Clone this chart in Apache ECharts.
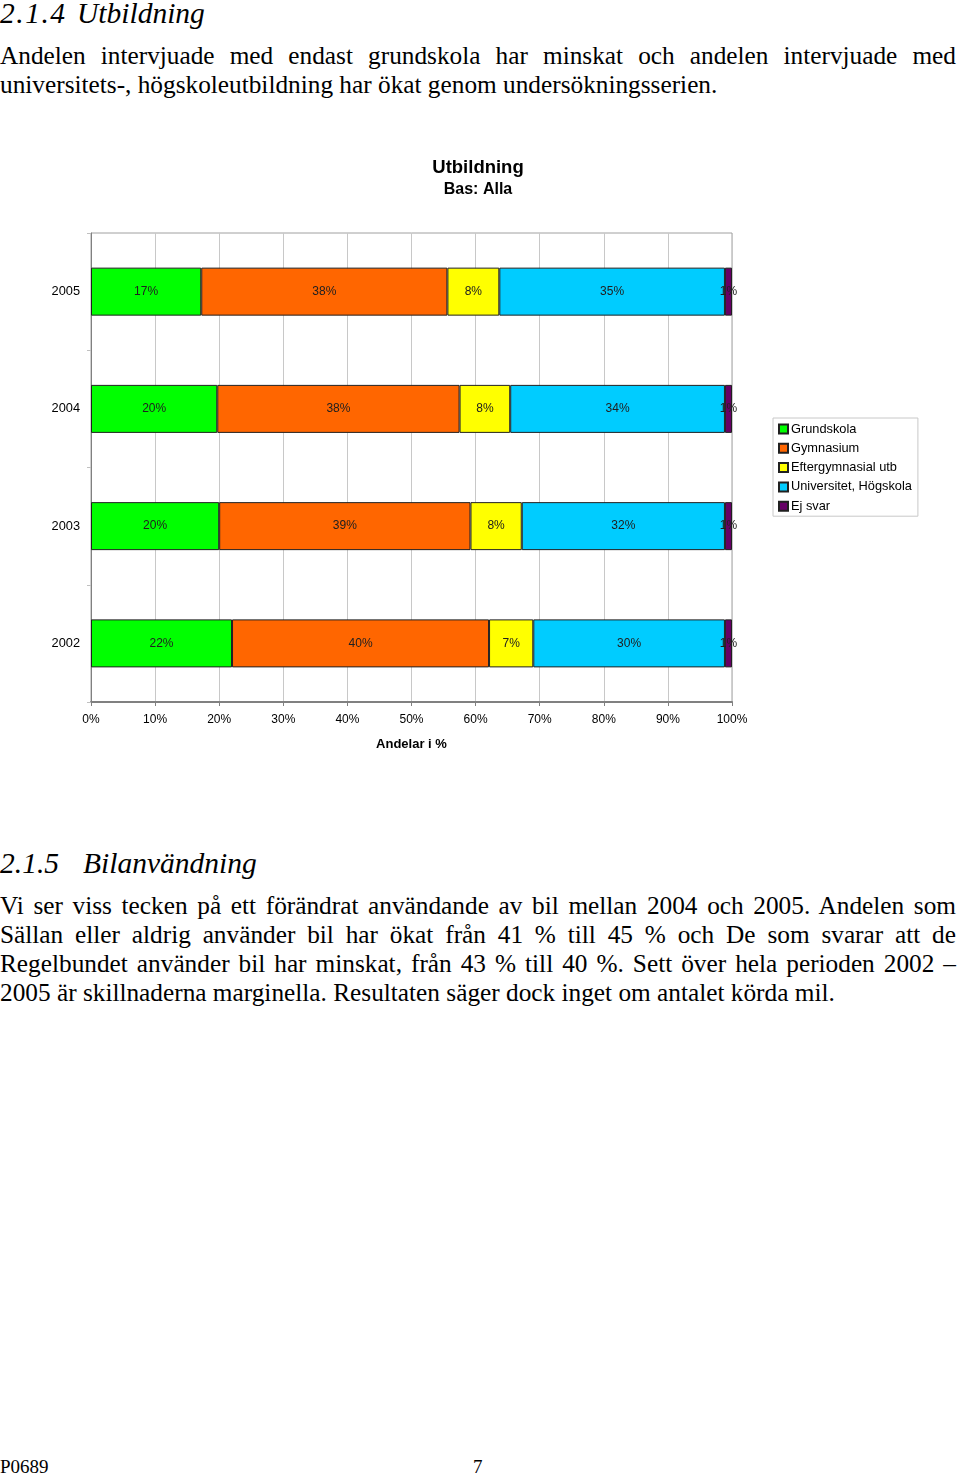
<!DOCTYPE html>
<html>
<head>
<meta charset="utf-8">
<script src="https://cdn.jsdelivr.net/npm/echarts@6/dist/echarts.min.js"></script>
<style>
  body { margin: 0; background: #fff; }
  .page { position: relative; width: 960px; height: 1474px; overflow: hidden; font-family: "Liberation Serif", serif; color: #000; }
  .h { position: absolute; font-style: italic; font-size: 29.5px; line-height: 28px; white-space: pre; }
  .p { position: absolute; left: 0; width: 956px; font-size: 25.3px; line-height: 29px; }
  .p div { text-align: justify; text-align-last: justify; white-space: nowrap; }
  .p div.last { text-align-last: left; }
  .foot { position: absolute; font-size: 19px; line-height: 19px; }
  #chart { position: absolute; left: 0; top: 130px; width: 960px; height: 650px; }
</style>
</head>
<body>
<div class="page">
  <div class="h" style="top:-1px; left:0; letter-spacing:1.5px">2.1.4</div>
  <div class="h" style="top:-1px; left:77px">Utbildning</div>
  <div class="p" style="top:41px">
    <div>Andelen intervjuade med endast grundskola har minskat och andelen intervjuade med</div>
    <div class="last">universitets-, högskoleutbildning har ökat genom undersökningsserien.</div>
  </div>

  <div id="chart"></div>

  <div class="h" style="top:849px; left:0">2.1.5</div>
  <div class="h" style="top:849px; left:83px">Bilanvändning</div>
  <div class="p" style="top:891px">
    <div>Vi ser viss tecken på ett förändrat användande av bil mellan 2004 och 2005. Andelen som</div>
    <div>Sällan eller aldrig använder bil har ökat från 41 % till 45 % och De som svarar att de</div>
    <div>Regelbundet använder bil har minskat, från 43 % till 40 %. Sett över hela perioden 2002 –</div>
    <div class="last">2005 är skillnaderna marginella. Resultaten säger dock inget om antalet körda mil.</div>
  </div>

  <div class="foot" style="left:0; top:1457px">P0689</div>
  <div class="foot" style="left:473px; top:1457px">7</div>
</div>
<script>
// kategorier (uppifrån och ned)
var years = ['2005', '2004', '2003', '2002'];
var seriesNames = ['Grundskola', 'Gymnasium', 'Eftergymnasial utb', 'Universitet, Högskola', 'Ej svar'];
var colors = ['#00FF00', '#FF6600', '#FFFF00', '#00CCFF', '#660066'];
// andelar i % per år, samma ordning som years
var grundskola = [17.2, 19.7, 20.0, 22.0];
var gymnasium = [38.4, 37.8, 39.2, 40.1];
var eftergymnasial = [8.1, 7.9, 8.0, 6.9];
var universitet = [35.2, 33.5, 31.7, 29.9];
var ejSvar = [1.1, 1.1, 1.1, 1.1];
var xTicks = [0, 10, 20, 30, 40, 50, 60, 70, 80, 90, 100];

var values = [grundskola, gymnasium, eftergymnasial, universitet, ejSvar];
var font = 'Liberation Sans, Arial, sans-serif';

var chart = echarts.init(document.getElementById('chart'));
chart.setOption({
  animation: false,
  title: {
    text: 'Utbildning',
    subtext: 'Bas: Alla',
    left: 478,
    textAlign: 'center',
    top: 28,
    padding: 0,
    itemGap: 3,
    textStyle: { fontFamily: font, fontSize: 18.5, lineHeight: 20, fontWeight: 'bold', color: '#000' },
    subtextStyle: { fontFamily: font, fontSize: 16, lineHeight: 18, fontWeight: 'bold', color: '#000' }
  },
  legend: {
    orient: 'vertical',
    left: 773,
    top: 288,
    padding: [4, 6, 3, 5],
    itemGap: 5.3,
    itemWidth: 9,
    itemHeight: 9,
    icon: 'rect',
    borderColor: '#c8c8c8',
    borderWidth: 1,
    textStyle: { fontFamily: font, fontSize: 12.8, color: '#000', padding: [0, 0, 0, -2], lineHeight: 14 },
    data: seriesNames
  },
  grid: {
    left: 91, top: 103, width: 641, height: 469,
    show: true, borderColor: '#a0a0a0', borderWidth: 1
  },
  xAxis: {
    type: 'value',
    min: 0, max: 100, interval: 10,
    name: 'Andelar i %',
    nameLocation: 'middle',
    nameGap: 36,
    nameTextStyle: { fontFamily: font, fontSize: 13, fontWeight: 'bold', color: '#000' },
    axisLine: { show: true, lineStyle: { color: '#808080', width: 2 } },
    axisTick: { show: true, length: 4, lineStyle: { color: '#808080' } },
    axisLabel: {
      margin: 12, fontFamily: font, fontSize: 12, color: '#000',
      formatter: function (v) { return xTicks.indexOf(v) >= 0 ? v + '%' : ''; }
    },
    splitLine: { show: true, lineStyle: { color: '#c8c8c8', width: 1 } }
  },
  yAxis: {
    type: 'category',
    inverse: true,
    data: years,
    axisLine: { show: true, lineStyle: { color: '#808080', width: 1 } },
    axisTick: { show: true, length: 4, lineStyle: { color: '#c0c0c0' } },
    axisLabel: { margin: 11, fontFamily: font, fontSize: 12.8, color: '#000' }
  },
  series: seriesNames.map(function (name, i) {
    return {
      name: name,
      type: 'bar',
      stack: 'total',
      barWidth: 48,
      data: values[i],
      itemStyle: { color: colors[i], borderColor: '#202020', borderWidth: 1 },
      label: {
        show: true,
        position: 'inside',
        fontFamily: font,
        fontSize: 12,
        color: '#202020',
        formatter: function (p) { return Math.round(p.value) + '%'; }
      }
    };
  })
});
</script>
</body>
</html>
